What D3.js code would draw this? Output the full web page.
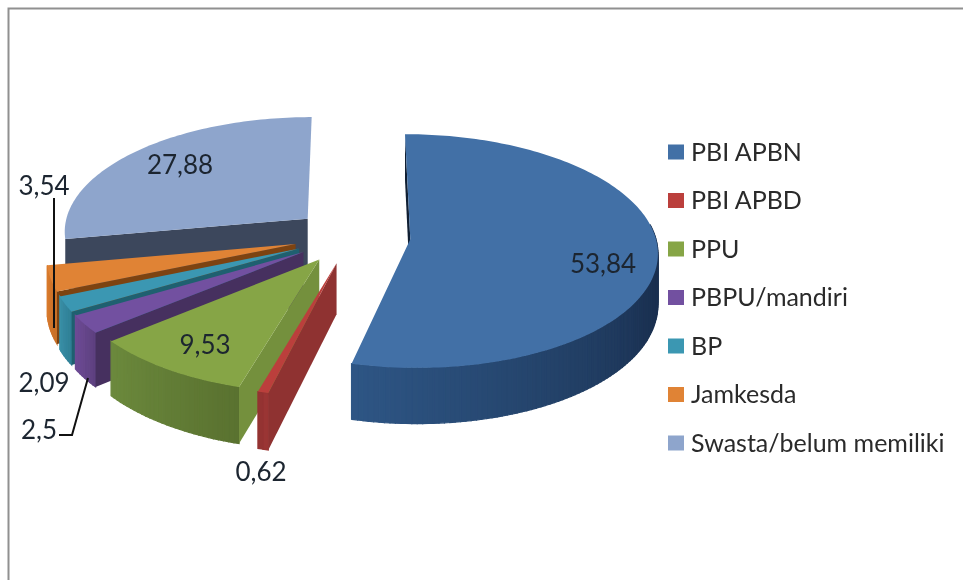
<!DOCTYPE html>
<html>
<head>
<meta charset="utf-8">
<script src="https://cdn.jsdelivr.net/npm/d3@7"></script>
<style>
  html, body { margin: 0; padding: 0; background: #fff; }
  svg { display: block; filter: blur(0.45px); }
  text { font-family: Lato, "Open Sans", sans-serif; }
</style>
</head>
<body>
<div id="chart"></div>
<script>
// data
const categories = ['PBI APBN', 'PBI APBD', 'PPU', 'PBPU/mandiri', 'BP', 'Jamkesda', 'Swasta/belum memiliki']
const shares = [53.84, 0.62, 9.53, 2.5, 2.09, 3.54, 27.88]
const shareLabels = ['53,84', '0,62', '9,53', '2,5', '2,09', '3,54', '27,88']

// colours per slice
const topColors = ['#4270a6', '#bb3f3c', '#86a546', '#7250a0', '#3b97b2', '#e08335', '#8ea5cc']
const sideColors = ['#101f33', '#8f3231', '#74903d', '#46305f', '#1f6070', '#7d4311', '#3c475c']
const wallStart = ['#1a3050', '#9a3534', '#5a7230', '#5e4180', '#2f7f95', '#c87028', '#556']
const wallEnd = ['#2e5685', '#8f3231', '#6c8a3d', '#6f4c97', '#3a90a8', '#d97a2d', '#556']

// label spots
const labelPos = [[603, 264], [261, 472], [205, 345], [39, 430], [44, 383], [44, 186], [180, 165]]

const width = 963, height = 580

const svg = d3.select('#chart').append('svg')
  .attr('width', width)
  .attr('height', height)

// frame
svg.append('path')
  .attr('d', 'M8.5,580V8.5H963')
  .attr('fill', 'none')
  .attr('stroke', '#909090')
  .attr('stroke-width', 2)

// pie plane in radius units, x to the right, y towards the viewer
const xScale = d3.scaleLinear().domain([-1, 1]).range([352 - 245, 352 + 245])
const yScale = d3.scaleLinear().domain([-1, 1]).range([236 - 115, 236 + 115])
const perspective = 0.1
const explode = 0.239
const wallHeight = 50
const camera = [-0.2, 1 / perspective]

function project(p, down) {
  const w = 1 / (1 - perspective * p[1])
  return [xScale(p[0] * w), yScale(p[1] * w) + (down ? wallHeight * w : 0)]
}

const arcs = d3.pie().sort(null).value(d => d)(shares)
  .map((a, i) => {
    const mid = (a.startAngle + a.endAngle) / 2
    return {
      index: i,
      start: a.startAngle,
      end: a.endAngle,
      apex: [explode * Math.sin(mid), -explode * Math.cos(mid)]
    }
  })

function rim(a, t) {
  return [a.apex[0] + Math.sin(t), a.apex[1] - Math.cos(t)]
}

// does a radial wall look at the camera
function facing(a, t, sign) {
  const nx = sign * Math.cos(t), ny = sign * Math.sin(t)
  return nx * (camera[0] - a.apex[0]) + ny * (camera[1] - a.apex[1]) > 0
}

// front part of the rim only
function rimFacing(t) {
  return Math.cos(t) < (Math.sin(t) > 0 ? 0.15 : -0.17)
}

const line = d3.line()

// draw back slices first
const order = arcs.slice().sort((a, b) => a.apex[1] - b.apex[1])

order.forEach(a => {
  const g = svg.append('g')
  const i = a.index
  const angles = d3.range(a.start, a.end, 0.02).concat([a.end])
  const shade = d3.scaleLinear()
    .domain([Math.max(a.start, Math.PI * 0.6), a.end])
    .range([wallStart[i], wallEnd[i]])
    .clamp(true)

  // outer wall, thin quads
  d3.pairs(angles).filter(pair => rimFacing(pair[0]) && rimFacing(pair[1])).forEach(pair => {
    const p0 = rim(a, pair[0]), p1 = rim(a, pair[1])
    const col = shade(pair[0])
    g.append('path')
      .attr('d', line([project(p0), project(p1), project(p1, true), project(p0, true)]) + 'Z')
      .attr('fill', col)
      .attr('stroke', col)
      .attr('stroke-width', 1.2)
  })

  // radial walls that can be seen
  ;[[a.start, -1], [a.end, 1]].forEach(w => {
    if (!facing(a, w[0], w[1])) return
    const p = rim(a, w[0])
    g.append('path')
      .attr('d', line([project(a.apex), project(p), project(p, true), project(a.apex, true)]) + 'Z')
      .attr('fill', sideColors[i])
  })

  // top face
  const topPts = [project(a.apex)].concat(angles.map(t => project(rim(a, t))))
  g.append('path')
    .attr('d', line(topPts) + 'Z')
    .attr('fill', topColors[i])
})

// leader lines
svg.append('path')
  .attr('d', 'M54,198V328')
  .attr('fill', 'none')
  .attr('stroke', '#111')
  .attr('stroke-width', 2)
svg.append('path')
  .attr('d', 'M59,435H72L88,378')
  .attr('fill', 'none')
  .attr('stroke', '#111')
  .attr('stroke-width', 2)

// value labels
svg.selectAll('text.value')
  .data(shareLabels)
  .join('text')
  .attr('class', 'value')
  .attr('x', (d, i) => labelPos[i][0])
  .attr('y', (d, i) => labelPos[i][1])
  .attr('text-anchor', 'middle')
  .attr('dy', '0.35em')
  .attr('font-size', 26)
  .attr('fill', '#1c2530')
  .text(d => d)

// legend
const legendY = d3.scalePoint().domain(categories).range([152, 443])

const legend = svg.append('g')

legend.selectAll('rect')
  .data(categories)
  .join('rect')
  .attr('x', 668)
  .attr('y', d => legendY(d) - 7.5)
  .attr('width', 16)
  .attr('height', 15)
  .attr('fill', (d, i) => topColors[i])

legend.selectAll('text')
  .data(categories)
  .join('text')
  .attr('x', 691)
  .attr('y', d => legendY(d))
  .attr('dy', '0.35em')
  .attr('font-size', 25)
  .attr('fill', '#2a2a2a')
  .text(d => d)
</script>
</body>
</html>
